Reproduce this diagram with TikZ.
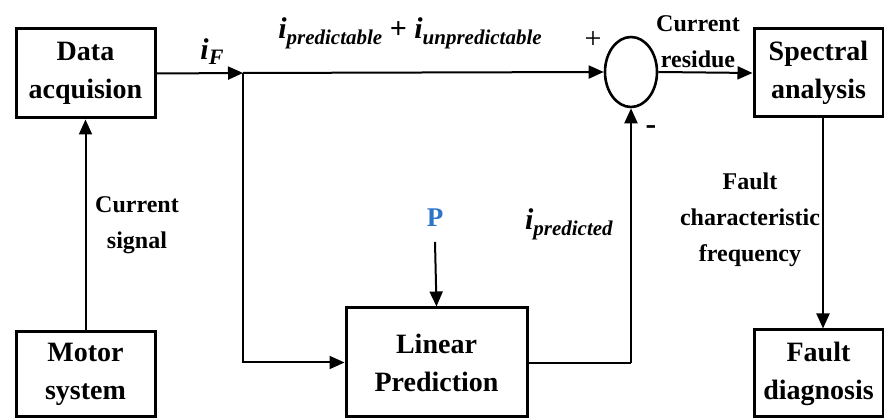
\documentclass[tikz,border=0pt]{standalone}
\usepackage{fontspec}
\setmainfont{Liberation Serif}
\usepackage{xcolor}
\usetikzlibrary{positioning, arrows.meta, shapes.geometric}

\definecolor{pblue}{RGB}{46,117,201}
% current symbol with a lowered subscript
\newcommand{\curr}[1]{\textit{i}\raisebox{-0.45ex}{\fontsize{21}{21}\selectfont\textit{#1}}}

\begin{document}
\begin{tikzpicture}[
    x=1pt, y=-1pt,
    every node/.style={font=\fontsize{24}{36}\selectfont\bfseries},
    box/.style={rectangle, draw, line width=3pt, align=center, inner sep=0pt,
        font=\fontsize{28}{38}\selectfont\bfseries},
    sumnode/.style={ellipse, draw, line width=2.6pt, minimum width=52pt, minimum height=70pt, inner sep=0pt},
    lbl/.style={align=center, inner sep=0pt},
    arr/.style={-{Triangle[length=15pt, width=13pt]}, line width=2pt},
    ln/.style={line width=2pt},
]
    \useasboundingbox (0,0) rectangle (884,419);

    \node[box, minimum width=139pt, minimum height=89pt] (daq)   at (85.5, 73.5)  {Data\\acquision};
    \node[box, minimum width=139pt, minimum height=85pt] (motor) at (85.5, 374.5) {Motor\\system};
    \node[box, minimum width=181pt, minimum height=109pt] (lp)   at (436.5, 362.5) {Linear\\Prediction};
    \node[box, minimum width=129pt, minimum height=88pt] (spec)  at (818.5, 73)   {Spectral\\analysis};
    \node[box, minimum width=129pt, minimum height=87pt] (fdiag) at (818.5, 373.5) {Fault\\diagnosis};
    \node[sumnode] (sum) at (631, 72) {};

    \coordinate (split) at (243, 73);
    \coordinate (lpout) at (631, 363);
    \node[lbl, text=pblue, font=\fontsize{27}{27}\selectfont\bfseries] (pin) at (435, 218) {P};
    \coordinate (ptail) at (435, 242);

    % labels
    \node[lbl, font=\fontsize{30}{30}\selectfont\bfseries] (ifl) at (212, 52) {\textit{i}\raisebox{-0.35ex}{\fontsize{22}{22}\selectfont\textit{F}}};
    \node[lbl, font=\fontsize{30}{30}\selectfont\bfseries] (suml) at (410, 33) {\curr{predictable} + \curr{unpredictable}};
    \node[lbl, font=\fontsize{30}{30}\selectfont\bfseries] (predl) at (569, 224) {\curr{predicted}};
    \node[lbl, font=\fontsize{30}{30}\selectfont] (plus) at (593, 40) {+};
    \node[lbl, font=\fontsize{32}{32}\selectfont\bfseries] (minus) at (651, 130) {-};
    \node[lbl] (resl) at (698, 42) {Current\\residue};
    \node[lbl] (sigl) at (137, 225) {Current\\signal};
    \node[lbl] (freql) at (750, 220) {Fault\\characteristic\\frequency};

    \draw[arr] (motor.north) -- (daq.south);
    \draw[arr] (daq.east) -- (split);
    \draw[arr] (split) -- (sum.west);
    \draw[arr] (split) |- (lp.west);
    \draw[arr] (ptail) -- (lp.north);
    \draw[ln] (lp.east |- lpout) -- (lpout);
    \draw[arr] (lpout) -- (sum.south);
    \draw[arr] (sum.east) -- (spec.west);
    \draw[arr] (spec.south -| 823,0) -- (fdiag.north -| 823,0);
\end{tikzpicture}
\end{document}
